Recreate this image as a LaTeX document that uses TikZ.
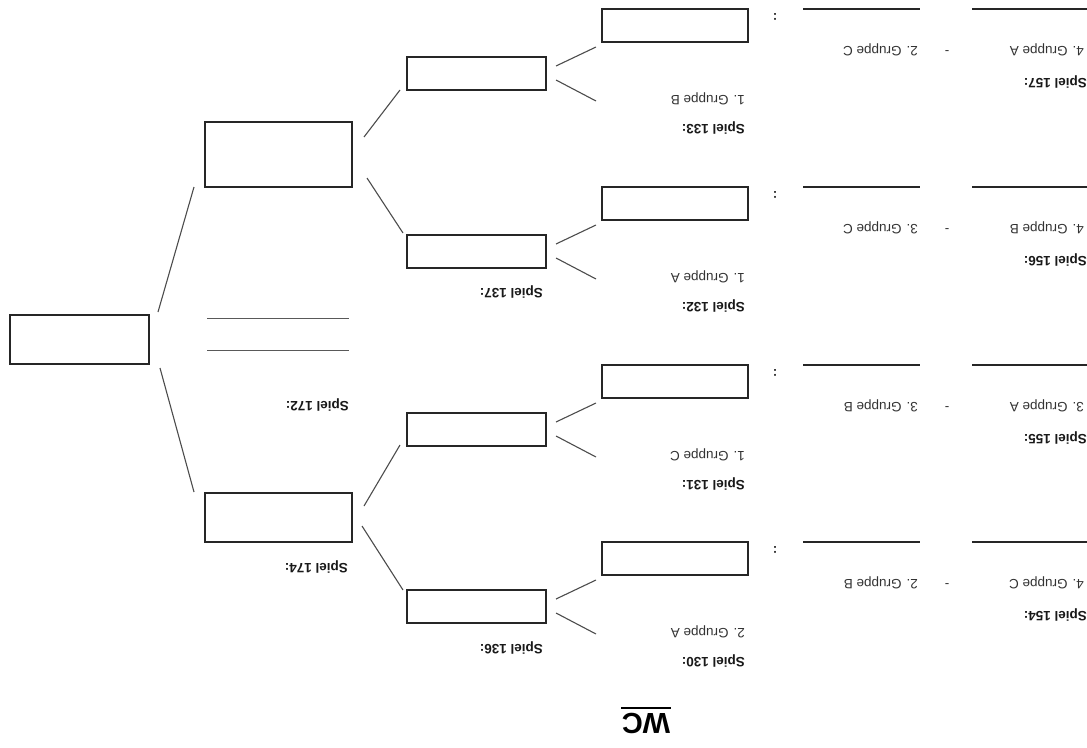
\documentclass[tikz,border=0pt]{standalone}
\usepackage{fontspec}
\setmainfont{Liberation Sans}
\begin{document}
\begin{tikzpicture}[x=1pt,y=-1pt,
  box/.style={draw=black!85, line width=1.7pt, minimum width=146pt, minimum height=33pt, inner sep=0pt, outer sep=0pt},
  conn/.style={draw=black!70, line width=1.1pt},
  hline/.style={draw=black!85, line width=1.7pt},
  tline/.style={draw=black!65, line width=1pt},
  lbl/.style={rotate=180, anchor=west, inner sep=0pt, text=black!90, font=\fontsize{13.5}{16}\selectfont\bfseries},
  grp/.style={rotate=180, anchor=west, inner sep=0pt, text=black!80, font=\fontsize{13.5}{16}\selectfont}]
\useasboundingbox (0,0) rectangle (1087,747);

\foreach \r/\d/\sa/\ga/\gb/\sb/\gc in {0/0/157/4. Gruppe A/2. Gruppe C/133/1. Gruppe B,
  1/178/156/4. Gruppe B/3. Gruppe C/132/1. Gruppe A,
  2/356/155/3. Gruppe A/3. Gruppe B/131/1. Gruppe C,
  3/533/154/4. Gruppe C/2. Gruppe B/130/2. Gruppe A}{
  % qualifying match
  \coordinate (qa\r) at (803,9+\d);
  \coordinate (qb\r) at (920,9+\d);
  \coordinate (qc\r) at (972,9+\d);
  \coordinate (qd\r) at (1095,9+\d);
  \draw[hline] (qa\r) -- (qb\r);
  \draw[hline] (qc\r) -- (qd\r);
  \node[grp] (ga\r) at (1084,50+\d) {\ga};
  \node[grp, anchor=center] (dash\r) at (947,50+\d) {-};
  \node[grp] (gb\r) at (918,50+\d) {\gb};
  \node[lbl] (sa\r) at (1087,82+\d) {Spiel \sa:};
  \node[grp, anchor=center, font=\fontsize{13.5}{16}\selectfont\bfseries] (colon\r) at (775,17+\d) {:};
  % round 1
  \node[box] (ra\r) at (675,25.5+\d) {};
  \node[grp] (gc\r) at (745,99+\d) {\gc};
  \node[lbl] (sb\r) at (745,128+\d) {Spiel \sb:};
  % round 2
  \node[box, minimum width=139pt] (rb\r) at (476.5,73.5+\d) {};
  \coordinate (fa\r) at (556,66+\d);
  \coordinate (fb\r) at (596,47+\d);
  \coordinate (fc\r) at (556,80+\d);
  \coordinate (fd\r) at (596,101+\d);
  \draw[conn] (fa\r) -- (fb\r);
  \draw[conn] (fc\r) -- (fd\r);
}

\node[lbl] (s137) at (543,292) {Spiel 137:};
\node[lbl] (s136) at (543,648) {Spiel 136:};

% round 3
\node[box, minimum width=147pt, minimum height=65pt] (rc0) at (278.5,154.5) {};
\node[box, minimum width=147pt, minimum height=49pt] (rc1) at (278.5,517.5) {};
\node[lbl] (s174) at (348,567) {Spiel 174:};

\coordinate (c1) at (364,137); \coordinate (c2) at (400,90);
\coordinate (c3) at (367,178); \coordinate (c4) at (403,233);
\coordinate (c5) at (364,506); \coordinate (c6) at (400,445);
\coordinate (c7) at (362,526); \coordinate (c8) at (403,590);
\draw[conn] (c1) -- (c2);
\draw[conn] (c3) -- (c4);
\draw[conn] (c5) -- (c6);
\draw[conn] (c7) -- (c8);

% final
\node[box, minimum width=139pt, minimum height=49pt] (fin) at (79.5,339.5) {};
\coordinate (e1) at (158,312); \coordinate (e2) at (194,187);
\coordinate (e3) at (160,368); \coordinate (e4) at (194,492);
\draw[conn] (e1) -- (e2);
\draw[conn] (e3) -- (e4);

\coordinate (t1) at (207,318); \coordinate (t2) at (349,318);
\coordinate (t3) at (207,350); \coordinate (t4) at (349,350);
\draw[tline] (t1) -- (t2);
\draw[tline] (t3) -- (t4);
\node[lbl] (s172) at (349,405) {Spiel 172:};

% title
\node[rotate=180, inner sep=0pt, font=\fontsize{29}{32}\selectfont\bfseries] (wc) at (646,723) {WC};
\coordinate (u1) at (621,708); \coordinate (u2) at (671,708);
\draw[line width=2.2pt] (u1) -- (u2);
\end{tikzpicture}
\end{document}
